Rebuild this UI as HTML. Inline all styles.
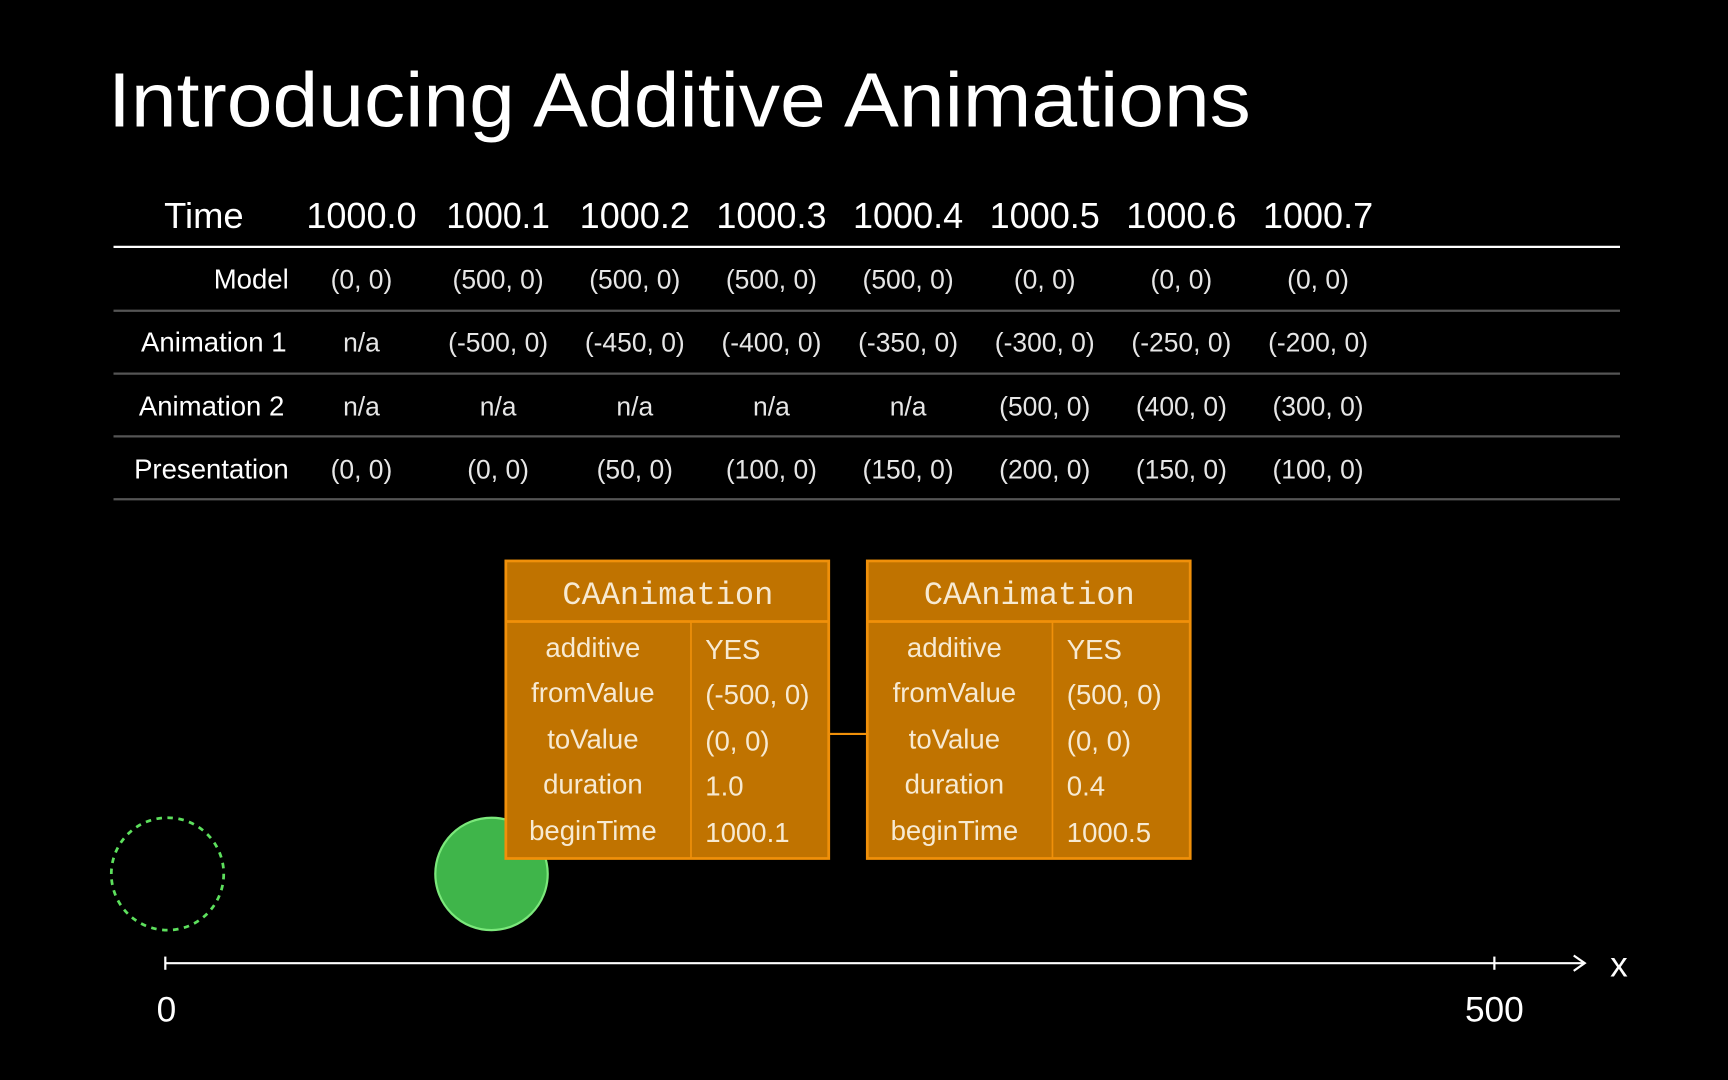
<!DOCTYPE html>
<html><head><meta charset="utf-8"><style>
html,body{margin:0;padding:0;background:#000;width:1728px;height:1080px;overflow:hidden}
svg{display:block}
text{font-family:"Liberation Sans",sans-serif;fill:#fff}
.h{font-size:33px;text-anchor:middle}
.c{font-size:24px;text-anchor:middle;fill:#e6e6e6}
.l{font-size:25px;text-anchor:end}
.bt{font-family:"Liberation Mono",monospace;font-size:29px;text-anchor:middle;fill:#f7ead2}
.bk{font-size:25px;text-anchor:middle;fill:#f7ead2}
.bv{font-size:25px;fill:#f7ead2}
</style></head><body>
<svg width="1728" height="1080" viewBox="0 0 1568 980" xmlns="http://www.w3.org/2000/svg">
<rect width="1568" height="980" fill="#000"/>
<text x="98" y="115" font-size="70" textLength="1037" lengthAdjust="spacingAndGlyphs">Introducing Additive Animations</text>

<text x="185" y="207" class="h">Time</text>
<text x="328" y="207" class="h" textLength="100" lengthAdjust="spacingAndGlyphs">1000.0</text>
<text x="452" y="207" class="h" textLength="94" lengthAdjust="spacingAndGlyphs">1000.1</text>
<text x="576" y="207" class="h" textLength="100" lengthAdjust="spacingAndGlyphs">1000.2</text>
<text x="700" y="207" class="h" textLength="100" lengthAdjust="spacingAndGlyphs">1000.3</text>
<text x="824" y="207" class="h" textLength="100" lengthAdjust="spacingAndGlyphs">1000.4</text>
<text x="948" y="207" class="h" textLength="100" lengthAdjust="spacingAndGlyphs">1000.5</text>
<text x="1072" y="207" class="h" textLength="100" lengthAdjust="spacingAndGlyphs">1000.6</text>
<text x="1196" y="207" class="h" textLength="100" lengthAdjust="spacingAndGlyphs">1000.7</text>
<line x1="103" y1="224" x2="1470" y2="224" stroke="#fff" stroke-width="2"/>
<g stroke="#555" stroke-width="2">
<line x1="103" y1="282" x2="1470" y2="282"/><line x1="103" y1="339" x2="1470" y2="339"/>
<line x1="103" y1="396" x2="1470" y2="396"/><line x1="103" y1="453" x2="1470" y2="453"/></g>

<text x="262" y="262" class="l">Model</text>
<text x="260" y="319" class="l">Animation 1</text>
<text x="258" y="377" class="l" fill="#ddd">Animation 2</text>
<text x="262" y="434" class="l">Presentation</text>

<g class="c">
<text x="328" y="262" class="c">(0, 0)</text><text x="452" y="262" class="c">(500, 0)</text><text x="576" y="262" class="c">(500, 0)</text><text x="700" y="262" class="c">(500, 0)</text><text x="824" y="262" class="c">(500, 0)</text><text x="948" y="262" class="c">(0, 0)</text><text x="1072" y="262" class="c">(0, 0)</text><text x="1196" y="262" class="c">(0, 0)</text>
<text x="328" y="319" class="c">n/a</text><text x="452" y="319" class="c">(-500, 0)</text><text x="576" y="319" class="c">(-450, 0)</text><text x="700" y="319" class="c">(-400, 0)</text><text x="824" y="319" class="c">(-350, 0)</text><text x="948" y="319" class="c">(-300, 0)</text><text x="1072" y="319" class="c">(-250, 0)</text><text x="1196" y="319" class="c">(-200, 0)</text>
<text x="328" y="377" class="c">n/a</text><text x="452" y="377" class="c">n/a</text><text x="576" y="377" class="c">n/a</text><text x="700" y="377" class="c">n/a</text><text x="824" y="377" class="c">n/a</text><text x="948" y="377" class="c">(500, 0)</text><text x="1072" y="377" class="c">(400, 0)</text><text x="1196" y="377" class="c">(300, 0)</text>
<text x="328" y="434" class="c">(0, 0)</text><text x="452" y="434" class="c">(0, 0)</text><text x="576" y="434" class="c">(50, 0)</text><text x="700" y="434" class="c">(100, 0)</text><text x="824" y="434" class="c">(150, 0)</text><text x="948" y="434" class="c">(200, 0)</text><text x="1072" y="434" class="c">(150, 0)</text><text x="1196" y="434" class="c">(100, 0)</text>
</g>

<circle cx="152" cy="793" r="51" fill="none" stroke="#5de05d" stroke-width="2.5" stroke-dasharray="5,5"/>
<circle cx="446" cy="793" r="51" fill="#3fb54a" stroke="#7be87b" stroke-width="2"/>

<line x1="752" y1="666" x2="787" y2="666" stroke="#f0900a" stroke-width="2"/>
<g stroke="#f0900a" stroke-width="2.5" fill="#c07300">
<rect x="459" y="509" width="293" height="270"/><line x1="459" y1="564" x2="752" y2="564"/><line x1="627" y1="564" x2="627" y2="779" stroke-width="1.5"/>
<rect x="787" y="509" width="293" height="270"/><line x1="787" y1="564" x2="1080" y2="564"/><line x1="955" y1="564" x2="955" y2="779" stroke-width="1.5"/>
</g>
<text x="606" y="548" class="bt">CAAnimation</text>
<text x="934" y="548" class="bt">CAAnimation</text>
<text x="538" y="596" class="bk">additive</text><text x="538" y="637" class="bk">fromValue</text><text x="538" y="679" class="bk">toValue</text><text x="538" y="720" class="bk">duration</text><text x="538" y="762" class="bk">beginTime</text>
<text x="640" y="598" class="bv">YES</text><text x="640" y="639" class="bv">(-500, 0)</text><text x="640" y="681" class="bv">(0, 0)</text><text x="640" y="722" class="bv">1.0</text><text x="640" y="764" class="bv">1000.1</text>
<text x="866" y="596" class="bk">additive</text><text x="866" y="637" class="bk">fromValue</text><text x="866" y="679" class="bk">toValue</text><text x="866" y="720" class="bk">duration</text><text x="866" y="762" class="bk">beginTime</text>
<text x="968" y="598" class="bv">YES</text><text x="968" y="639" class="bv">(500, 0)</text><text x="968" y="681" class="bv">(0, 0)</text><text x="968" y="722" class="bv">0.4</text><text x="968" y="764" class="bv">1000.5</text>

<g stroke="#fff" stroke-width="2" fill="none">
<line x1="150" y1="874" x2="1437" y2="874"/>
<line x1="150" y1="868" x2="150" y2="880"/><line x1="1356" y1="868" x2="1356" y2="880"/>
<polyline points="1428,867 1438,874 1428,881"/></g>
<text x="1469" y="886" font-size="32" text-anchor="middle">x</text>
<text x="151" y="927" font-size="32" text-anchor="middle">0</text>
<text x="1356" y="927" font-size="32" text-anchor="middle">500</text>
</svg>
</body></html>
